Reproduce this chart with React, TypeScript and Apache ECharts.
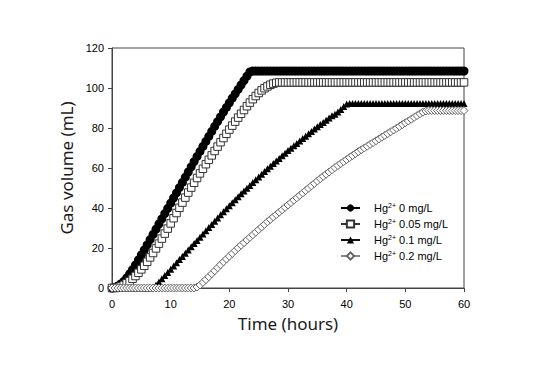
import React, { useEffect, useRef } from "react";
import * as echarts from "echarts";

const TIMES = [
  0, 0.5, 1, 1.5, 2, 2.5, 3, 3.5, 4, 4.5, 5, 5.5, 6, 6.5, 7, 7.5, 8, 8.5, 9, 9.5,
  10, 10.5, 11, 11.5, 12, 12.5, 13, 13.5, 14, 14.5, 15, 15.5, 16, 16.5, 17, 17.5, 18, 18.5, 19, 19.5,
  20, 20.5, 21, 21.5, 22, 22.5, 23, 23.5, 24, 24.5, 25, 25.5, 26, 26.5, 27, 27.5, 28, 28.5, 29, 29.5,
  30, 30.5, 31, 31.5, 32, 32.5, 33, 33.5, 34, 34.5, 35, 35.5, 36, 36.5, 37, 37.5, 38, 38.5, 39, 39.5,
  40, 40.5, 41, 41.5, 42, 42.5, 43, 43.5, 44, 44.5, 45, 45.5, 46, 46.5, 47, 47.5, 48, 48.5, 49, 49.5,
  50, 50.5, 51, 51.5, 52, 52.5, 53, 53.5, 54, 54.5, 55, 55.5, 56, 56.5, 57, 57.5, 58, 58.5, 59, 59.5,
  60,
];

// Hg2+ 0 mg/L
const HG_0 = [
  0, 0.3, 1, 2, 3.3, 5, 7, 9.2, 11.5, 14, 16.5, 19, 21.6, 24.2, 26.8, 29.4, 32, 34.6, 37.2, 39.8,
  42.4, 45, 47.6, 50.2, 52.8, 55.4, 58, 60.6, 63.2, 65.8, 68.3, 70.8, 73.3, 75.8, 78.3, 80.8, 83.2, 85.6, 88, 90.3,
  92.6, 94.9, 97.1, 99.3, 101.5, 103.7, 105.9, 108, 108.5, 108.5, 108.5, 108.5, 108.5, 108.5, 108.5, 108.5, 108.5, 108.5, 108.5, 108.5,
  108.5, 108.5, 108.5, 108.5, 108.5, 108.5, 108.5, 108.5, 108.5, 108.5, 108.5, 108.5, 108.5, 108.5, 108.5, 108.5, 108.5, 108.5, 108.5, 108.5,
  108.5, 108.5, 108.5, 108.5, 108.5, 108.5, 108.5, 108.5, 108.5, 108.5, 108.5, 108.5, 108.5, 108.5, 108.5, 108.5, 108.5, 108.5, 108.5, 108.5,
  108.5, 108.5, 108.5, 108.5, 108.5, 108.5, 108.5, 108.5, 108.5, 108.5, 108.5, 108.5, 108.5, 108.5, 108.5, 108.5, 108.5, 108.5, 108.5, 108.5,
  108.5,
];

// Hg2+ 0.05 mg/L
const HG_005 = [
  0, 0, 0.3, 0.8, 1.5, 2.4, 3.4, 4.6, 6, 7.6, 9.3, 11.1, 13.1, 15.3, 17.5, 19.8, 22.2, 24.7, 27.2, 29.7,
  32.3, 34.9, 37.5, 40.1, 42.7, 45.2, 47.7, 50.2, 52.6, 55, 57.3, 59.6, 61.9, 64.1, 66.3, 68.5, 70.7, 72.9, 75, 77.1,
  79.2, 81.2, 83.2, 85.2, 87.1, 89, 90.9, 92.7, 94.4, 96, 97.5, 98.8, 99.9, 100.8, 101.6, 102.2, 102.6, 102.8, 102.8, 102.8,
  102.8, 102.8, 102.8, 102.8, 102.8, 102.8, 102.8, 102.8, 102.8, 102.8, 102.8, 102.8, 102.8, 102.8, 102.8, 102.8, 102.8, 102.8, 102.8, 102.8,
  102.8, 102.8, 102.8, 102.8, 102.8, 102.8, 102.8, 102.8, 102.8, 102.8, 102.8, 102.8, 102.8, 102.8, 102.8, 102.8, 102.8, 102.8, 102.8, 102.8,
  102.8, 102.8, 102.8, 102.8, 102.8, 102.8, 102.8, 102.8, 102.8, 102.8, 102.8, 102.8, 102.8, 102.8, 102.8, 102.8, 102.8, 102.8, 102.8, 102.8,
  102.8,
];

// Hg2+ 0.1 mg/L
const HG_01 = [
  0, 0, 0, 0, 0, 0, 0, 0, 0, 0, 0, 0, 0, 0, 0.5, 1.5, 3, 4.6, 6.2, 7.8,
  9.4, 11, 12.6, 14.2, 15.8, 17.4, 19, 20.6, 22.2, 23.8, 25.4, 27, 28.6, 30.2, 31.8, 33.4, 35, 36.6, 38.1, 39.6,
  41.1, 42.6, 44.1, 45.6, 47.1, 48.5, 49.9, 51.3, 52.7, 54.1, 55.5, 56.9, 58.3, 59.6, 60.9, 62.2, 63.5, 64.8, 66.1, 67.4,
  68.7, 69.9, 71.1, 72.3, 73.5, 74.7, 75.9, 77.1, 78.3, 79.5, 80.6, 81.7, 82.8, 83.9, 85, 86.1, 86.9, 88, 89.3, 90.8,
  92, 92.3, 92.3, 92.3, 92.3, 92.3, 92.3, 92.3, 92.3, 92.3, 92.3, 92.3, 92.3, 92.3, 92.3, 92.3, 92.3, 92.3, 92.3, 92.3,
  92.3, 92.3, 92.3, 92.3, 92.3, 92.3, 92.3, 92.3, 92.3, 92.3, 92.3, 92.3, 92.3, 92.3, 92.3, 92.3, 92.3, 92.3, 92.3, 92.3,
  92.3,
];

// Hg2+ 0.2 mg/L
const HG_02 = [
  0, 0, 0, 0, 0, 0, 0, 0, 0, 0, 0, 0, 0, 0, 0, 0, 0, 0, 0, 0,
  0, 0, 0, 0, 0, 0, 0, 0, 0, 0.5, 1.5, 2.8, 4.2, 5.6, 7.1, 8.6, 10.1, 11.6, 13.1, 14.5,
  15.9, 17.3, 18.7, 20.1, 21.4, 22.7, 24, 25.3, 26.6, 27.9, 29.2, 30.5, 31.8, 33.1, 34.3, 35.5, 36.7, 37.9, 39.1, 40.3,
  41.5, 42.7, 43.9, 45.1, 46.3, 47.5, 48.7, 49.9, 51.1, 52.3, 53.5, 54.7, 55.8, 56.9, 58, 59.1, 60.2, 61.2, 62.2, 63.2,
  64.2, 65.2, 66.2, 67.2, 68.2, 69.1, 70, 70.9, 71.8, 72.7, 73.6, 74.5, 75.4, 76.3, 77.2, 78.1, 79, 79.9, 80.8, 81.7,
  82.6, 83.5, 84.4, 85.3, 86.2, 87.1, 87.9, 88.5, 88.7, 88.7, 88.7, 88.7, 88.7, 88.7, 88.7, 88.7, 88.7, 88.7, 88.7, 88.7,
  88.7,
];

const SERIES_NAMES = ["0 mg/L", "0.05 mg/L", "0.1 mg/L", "0.2 mg/L"];
const X_AXIS_NAME = "Time (hours)";
const Y_AXIS_NAME = "Gas volume (mL)";

const pairs = (vals: number[]) => TIMES.map((t, i) => [t, vals[i]]);

export default function App() {
  const ref = useRef<HTMLDivElement>(null);
  useEffect(() => {
    if (!ref.current) return;
    const chart = echarts.init(ref.current, undefined, { renderer: "svg" });
    const labelFont = "'Liberation Sans', Arial, sans-serif";
    const nameFont = "'Noto Sans', 'Open Sans', sans-serif";
    const axisColor = "#444";
    chart.setOption({
      animation: false,
      backgroundColor: "#fff",
      grid: {
        left: 112,
        top: 48,
        width: 352,
        height: 240,
        show: true,
        borderColor: axisColor,
        borderWidth: 1,
        containLabel: false,
      },
      xAxis: {
        type: "value",
        min: 0,
        max: 60,
        interval: 10,
        name: X_AXIS_NAME,
        nameLocation: "middle",
        nameGap: 27,
        nameTextStyle: { fontFamily: nameFont, fontSize: 17, color: "#1a1a1a" },
        axisLine: { lineStyle: { color: axisColor, width: 1 } },
        axisTick: { show: true, inside: false, length: 4, lineStyle: { color: axisColor } },
        axisLabel: { fontFamily: labelFont, fontSize: 11, color: "#000", margin: 10 },
        splitLine: { show: false },
      },
      yAxis: {
        type: "value",
        min: 0,
        max: 120,
        interval: 20,
        name: Y_AXIS_NAME,
        nameLocation: "middle",
        nameGap: 35,
        nameTextStyle: { fontFamily: nameFont, fontSize: 17, color: "#1a1a1a" },
        axisLine: { show: true, lineStyle: { color: axisColor, width: 1 } },
        axisTick: { show: true, inside: false, length: 4, lineStyle: { color: axisColor } },
        axisLabel: { fontFamily: labelFont, fontSize: 11, color: "#000", margin: 8 },
        splitLine: { show: false },
      },
      legend: {
        orient: "vertical",
        left: 340,
        top: 202,
        itemWidth: 19,
        itemHeight: 9,
        itemGap: 4.5,
        padding: 0,
        data: SERIES_NAMES,
        formatter: (name: string) => `{hp|Hg}{s|2+}{h| ${name}}`,
        textStyle: {
          fontFamily: labelFont,
          fontSize: 11,
          color: "#000",
          rich: {
            hp: { fontFamily: labelFont, fontSize: 11, color: "#000", lineHeight: 12, padding: [0, 0, 0, 9] },
            h: { fontFamily: labelFont, fontSize: 11, color: "#000", lineHeight: 12 },
            s: { fontFamily: labelFont, fontSize: 7, color: "#000", lineHeight: 8, verticalAlign: "top" },
          },
        },
      },
      series: [
        {
          name: SERIES_NAMES[0],
          type: "line",
          data: pairs(HG_0),
          symbol: "circle",
          symbolSize: 9,
          clip: false,
          itemStyle: { color: "#000", borderWidth: 0 },
          lineStyle: { color: "#000", width: 1 },
        },
        {
          name: SERIES_NAMES[1],
          type: "line",
          data: pairs(HG_005),
          symbol: "rect",
          symbolSize: 7.5,
          clip: false,
          itemStyle: { color: "#fff", borderColor: "#333", borderWidth: 1 },
          lineStyle: { color: "#333", width: 1 },
        },
        {
          name: SERIES_NAMES[2],
          type: "line",
          data: pairs(HG_01),
          symbol: "triangle",
          symbolSize: 7,
          clip: false,
          itemStyle: { color: "#000", borderWidth: 0 },
          lineStyle: { color: "#111", width: 1 },
        },
        {
          name: SERIES_NAMES[3],
          type: "line",
          data: pairs(HG_02),
          symbol: "diamond",
          symbolSize: 8,
          clip: false,
          itemStyle: { color: "#fff", borderColor: "#666", borderWidth: 1 },
          lineStyle: { color: "#888", width: 1 },
        },
      ],
    });
    return () => chart.dispose();
  }, []);
  return (
    <div
      ref={ref}
      style={{ position: "fixed", left: 0, top: 0, width: 534, height: 384, background: "#fff" }}
    />
  );
}
